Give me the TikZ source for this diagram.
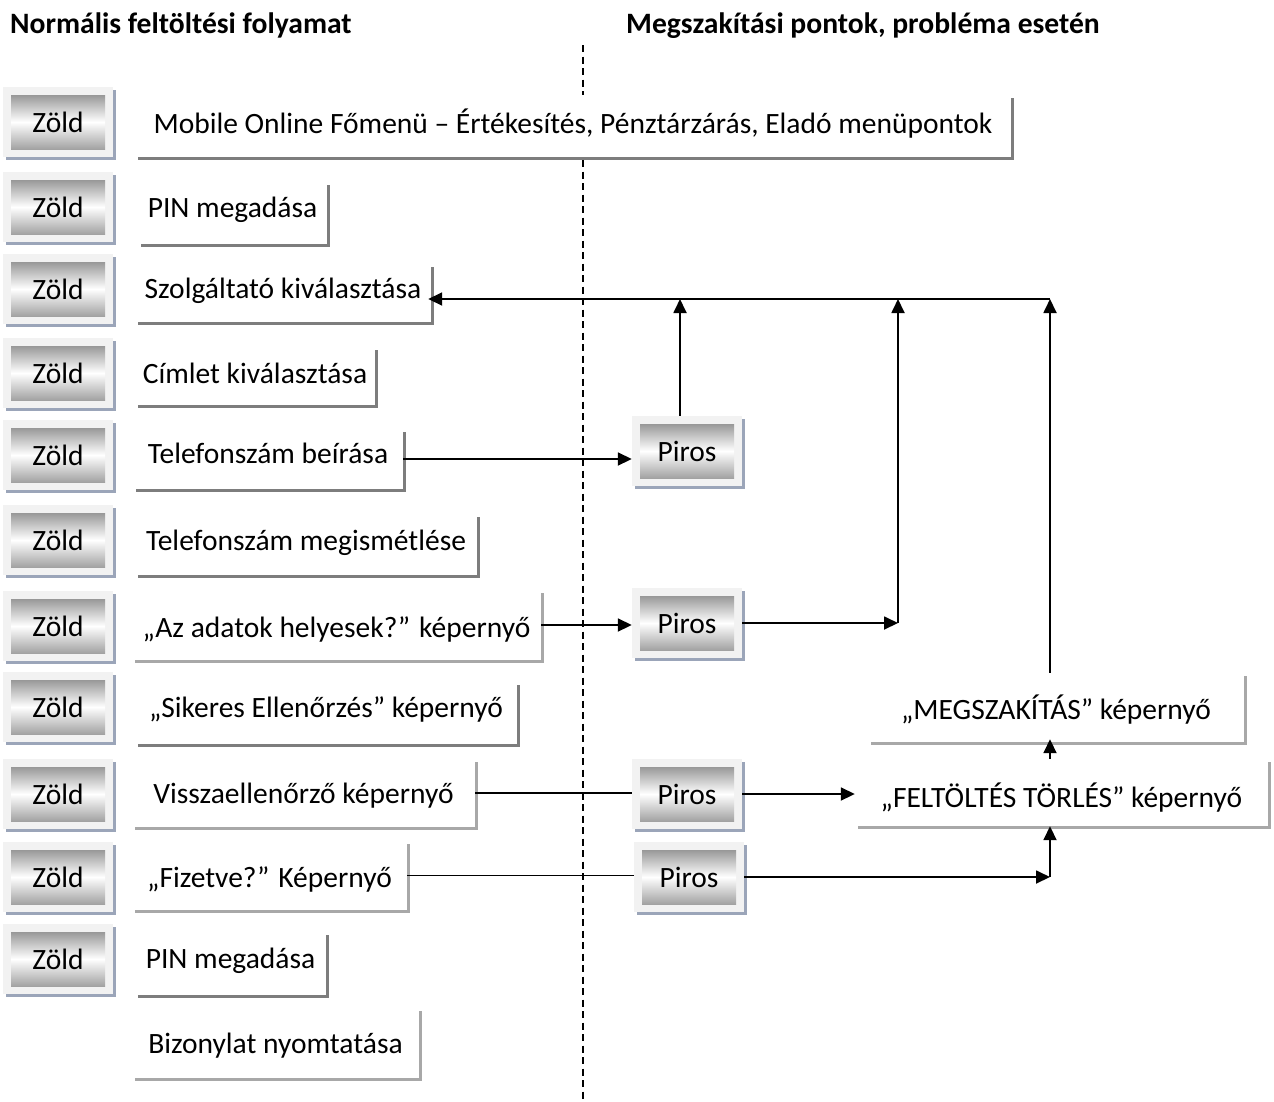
\documentclass[tikz,border=0pt]{standalone}
\usepackage{fontspec}
\setmainfont{Carlito}
\usetikzlibrary{arrows.meta,shadows,calc}
\definecolor{texsh}{RGB}{125,125,125}
\definecolor{lightsh}{RGB}{168,168,168}
\definecolor{btnsh}{RGB}{155,165,185}
\definecolor{btnbg}{RGB}{242,242,242}
\definecolor{gtop}{RGB}{122,122,122}
\definecolor{gbot}{RGB}{135,135,135}
% #1 name, #2 left, #3 top, #4 right, #5 bottom (shadow edges), #6 baseline, #7 shadow colour, #8 text
\newcommand\tbox[8]{%
  \pgfmathsetmacro\tbw{#4-#2}%
  \pgfmathsetmacro\tbx{(#2+#4)/2-3}%
  \pgfmathsetmacro\tbh{#6-#3+3}%
  \pgfmathsetmacro\tbd{#5-3-#6}%
  \node[tboxst, general shadow={fill=#7, shadow xshift=3pt, shadow yshift=-3pt},
        minimum width=\tbw pt, text height=\tbh pt, text depth=\tbd pt, anchor=base]
        (#1) at (\tbx,#6) {#8};%
}
\tikzset{
  tboxst/.style={rectangle, fill=white, inner xsep=0pt, inner ysep=0pt},
  btn/.style={rectangle, minimum width=110pt, minimum height=70pt, inner sep=0pt,
    fill=btnbg, general shadow={fill=btnsh, shadow xshift=3pt, shadow yshift=-3pt},
    path picture={\shade[top color=gtop, bottom color=gbot, middle color=white]
      ([xshift=8pt,yshift=8pt]path picture bounding box.south west) rectangle
      ([xshift=-8pt,yshift=-8pt]path picture bounding box.north east);}},
  hdr/.style={font=\fontsize{29.6}{35}\selectfont\bfseries, inner sep=0pt, anchor=base west},
  ln/.style={line width=1.8pt},
  arr/.style={line width=1.8pt, -{Triangle[length=14pt,width=13pt]}},
  sep/.style={line width=2pt, dash pattern=on 7pt off 4.5pt}
}
\begin{document}
\begin{tikzpicture}[x=1pt,y=-1pt,font=\fontsize{29.5}{35}\selectfont]
\useasboundingbox (0,0) rectangle (1274,1101);

\node[hdr] (h1) at (10,33) {Normális feltöltési folyamat};
\node[hdr] (h2) at (626,33) {Megszakítási pontok, probléma esetén};

\coordinate (septop) at (583,45);
\coordinate (sepbot) at (583,1101);
\draw[sep] (septop) -- (sepbot);

% left buttons
\node[btn] (z1) at (58,122) {Zöld};
\node[btn] (z2) at (58,207) {Zöld};
\node[btn] (z3) at (58,289) {Zöld};
\node[btn] (z4) at (58,373) {Zöld};
\node[btn] (z5) at (58,455) {Zöld};
\node[btn] (z6) at (58,540) {Zöld};
\node[btn] (z7) at (58,626) {Zöld};
\node[btn] (z8) at (58,707) {Zöld};
\node[btn] (z9) at (58,794) {Zöld};
\node[btn] (z10) at (58,877) {Zöld};
\node[btn] (z11) at (58,959) {Zöld};

% text boxes
\tbox{mob}{138}{98}{1014}{160}{133}{texsh}{Mobile Online Főmenü – Értékesítés, Pénztárzárás, Eladó menüpontok}
\tbox{pin1}{141}{185}{330}{247}{217}{texsh}{PIN megadása}
\tbox{szol}{138}{267}{434}{325}{298}{texsh}{Szolgáltató kiválasztása}
\tbox{cim}{138}{350}{378}{408}{383}{texsh}{Címlet kiválasztása}
\tbox{tel1}{136}{432}{406}{492}{463}{texsh}{Telefonszám beírása}
\tbox{tel2}{138}{517}{480}{578}{550}{texsh}{Telefonszám megismétlése}
\tbox{adat}{135}{593}{544}{663}{637}{lightsh}{„Az adatok helyesek?” képernyő}
\tbox{sik}{138}{685}{520}{747}{717}{texsh}{„Sikeres Ellenőrzés” képernyő}
\tbox{vissza}{135}{762}{478}{830}{803}{lightsh}{Visszaellenőrző képernyő}
\tbox{fiz}{135}{844}{410}{913}{887}{lightsh}{„Fizetve?” Képernyő}
\tbox{pin2}{138}{935}{329}{998}{968}{texsh}{PIN megadása}
\tbox{biz}{135}{1011}{422}{1081}{1053}{lightsh}{Bizonylat nyomtatása}
\tbox{megsz}{871}{676}{1247}{745}{719}{lightsh}{„MEGSZAKÍTÁS” képernyő}
\tbox{feltorl}{858}{762}{1271}{829}{807}{lightsh}{„FELTÖLTÉS TÖRLÉS” képernyő}

% right buttons
\node[btn] (p1) at (687,451) {Piros};
\node[btn] (p2) at (687,623) {Piros};
\node[btn] (p3) at (687,794) {Piros};
\node[btn] (p4) at (689,877) {Piros};

% junctions
\coordinate (rtop) at (1050,299);
\coordinate (mtop) at (898,299);
\coordinate (mcor) at (p2.east -| mtop);
\coordinate (fcor) at (p4.east -| rtop);

% connectors
\draw[arr] (tel1.east) -- (tel1.east -| p1.west);
\draw[arr] (adat.east) -- (adat.east -| p2.west);
\draw[ln] (vissza.east) -- (vissza.east -| p3.west);
\draw[ln] (fiz.east) -- (fiz.east -| p4.west);
\draw[arr] ([xshift=-7pt]p1.north) -- ([xshift=-7pt]p1.north |- rtop);
\draw[arr] (p2.east) -- (mcor);
\draw[arr] (mcor) -- (mtop);
\draw[arr] (megsz.north -| rtop) -- (rtop);
\draw[arr, shorten >=-3pt] (rtop) -- (rtop -| szol.east);
\draw[arr] (p3.east) -- (p3.east -| feltorl.west);
\draw[arr] (p4.east) -- (fcor);
\draw[arr] (fcor) -- (fcor |- feltorl.south);
\draw[arr, shorten >=-3pt] (feltorl.north -| rtop) -- (megsz.south -| rtop);
\end{tikzpicture}
\end{document}
